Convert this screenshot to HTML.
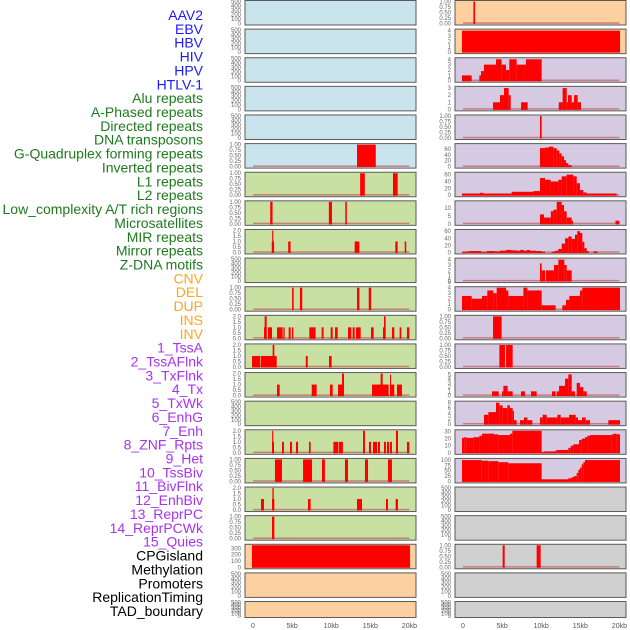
<!DOCTYPE html>
<html><head><meta charset="utf-8"><style>
html,body{margin:0;padding:0;background:#fff;}
svg{display:block;}
</style></head><body>
<svg id="chart" width="630" height="630" viewBox="0 0 630 630" xmlns="http://www.w3.org/2000/svg" font-family="Liberation Sans, sans-serif"></svg>
<script>
// ---- labels ----
const labelNames = ["AAV2","EBV","HBV","HIV","HPV","HTLV-1","Alu repeats","A-Phased repeats","Directed repeats","DNA transposons","G-Quadruplex forming repeats","Inverted repeats","L1 repeats","L2 repeats","Low_complexity A/T rich regions","Microsatellites","MIR repeats","Mirror repeats","Z-DNA motifs","CNV","DEL","DUP","INS","INV","1_TssA","2_TssAFlnk","3_TxFlnk","4_Tx","5_TxWk","6_EnhG","7_Enh","8_ZNF_Rpts","9_Het","10_TssBiv","11_BivFlnk","12_EnhBiv","13_ReprPC","14_ReprPCWk","15_Quies","CPGisland","Methylation","Promoters","ReplicationTiming","TAD_boundary"];
const labelGroups = [0,0,0,0,0,0,1,1,1,1,1,1,1,1,1,1,1,1,1,2,2,2,2,2,3,3,3,3,3,3,3,3,3,3,3,3,3,3,3,4,4,4,4,4];
const groupColors = ["#1a1aff","#1e7a1e","#ffa51f","#a633f0","#000000"];

// ---- panel backgrounds / axis ----
const leftBg = ["b","b","b","b","b","b","g","g","g","g","g","g","g","g","g","g","g","g","g","o","o","o"];
const rightBg = ["o","o","p","p","p","p","p","p","p","p","p","p","p","p","p","p","p","g2","g2","g2","g2","g2"];
const bgColors = {b:"#c9e4ec",g:"#c8e1a2",o:"#fecf9f",p:"#d6c9e2",g2:"#d0d0d0"};
const leftMax = [500,500,500,500,500,1,1,1,2,500,1,2,2,2,500,2,1,2,1,350,500,500];
const rightMax = [1,4.1,4.1,3.1,1,75,64,14,62,4.1,4,1,1,5.2,8.2,31,103,500,500,1,500,500];
const ticks500 = [0,100,200,300,400,500];
const ticks1 = [0,0.25,0.5,0.75,1];
const ticks2 = [0,0.5,1,1.5,2];
const leftTicks = [ticks500,ticks500,ticks500,ticks500,ticks500,ticks1,ticks1,ticks1,ticks2,ticks500,ticks1,ticks2,ticks2,ticks2,ticks500,ticks2,ticks1,ticks2,ticks1,[0,100,200,300],ticks500,ticks500];
const rightTicks = [ticks1,[0,1,2,3,4],[0,1,2,3,4],[0,1,2,3],ticks1,[0,20,40,60],[0,20,40,60],[0,5,10],[0,20,40,60],[0,1,2,3,4],[0,1,2,3,4,5],ticks1,ticks1,[0,1,2,3,4,5],[0,2,4,6,8],[0,10,20,30],[0,25,50,75,100],ticks500,ticks500,ticks1,ticks500,ticks500];
const xTickKb = [0,5,10,15,20];
const xTickLabels = ["0","5kb","10kb","15kb","20kb"];

// ---- bar data: [startKb, endKb, value] ----
const L5 = [[13.3,15.7,1]];
const L6 = [[13.7,14.3,1],[17.9,18.5,1]];
const L7 = [[2.2,2.5,1],[9.7,10.1,1],[11.8,12.0,1]];
const L8 = [[2.4,2.7,1],[2.45,2.6,2],[4.5,4.8,1],[13.0,13.6,1],[18.2,18.5,1],[19.4,19.6,1]];
const L10 = [[5.0,5.2,1],[6.0,6.3,1],[13.3,13.6,1],[14.8,15.1,1]];
const L11 = [[1.41,1.75,1],[1.49,1.75,2],[1.92,2.43,1],[3.07,3.79,1],[3.88,4.05,1],[4.56,4.82,1],[4.99,5.16,1],[7.2,8.01,1],[8.78,9.03,1],[9.93,10.19,1],[10.49,10.83,1],[12.15,12.57,1],[12.74,13.0,1],[13.17,13.77,1],[15.09,15.43,1],[16.62,16.96,1],[16.75,16.96,2],[17.77,18.07,1],[18.75,18.97,1],[19.69,19.99,1]];
const L12 = [[-0.13,0.9,1],[0.98,3.03,1],[2.51,2.73,2],[6.75,7.0,1],[9.72,10.06,1]];
const L13 = [[3.07,3.41,1],[7.51,8.14,1],[9.84,10.19,1],[10.87,11.64,1],[11.38,11.64,2],[15.22,17.35,1],[16.32,16.58,2],[17.52,18.07,1],[17.52,17.62,1.9],[18.41,19.05,1]];
const L15 = [[2.43,2.69,1],[2.45,2.6,2],[3.71,3.96,1],[4.73,4.99,1],[5.5,5.76,1],[7.16,7.37,1],[10.28,10.92,1],[11.0,11.5,1],[14.07,14.32,2],[14.83,15.09,1],[15.34,15.86,1],[15.98,16.24,1],[16.75,17.0,1],[17.13,17.39,1],[17.52,17.77,1],[18.28,18.54,2],[19.69,19.99,1]];
const L16 = [[2.81,3.71,1],[6.4,7.55,1],[8.82,9.2,1],[11.76,12.15,1],[14.32,14.71,1],[17.26,17.77,1]];
const L17 = [[1.02,1.41,1],[2.43,2.73,1],[2.48,2.65,2],[7.03,7.37,1],[13.3,13.94,1],[17.0,17.26,1],[18.24,18.54,1]];
const L18 = [[2.43,2.73,1]];
const L19 = [[-0.13,20.08,350]];
const leftData = [[],[],[],[],[],L5,L6,L7,L8,[],L10,L11,L12,L13,[],L15,L16,L17,L18,L19,[],[]];

const R0 = [[1.33,1.54,1]];
const R1 = [[-0.13,20.08,4]];
const R2 = [[-0.13,1.11,1],[2.09,2.3,1],[2.3,2.68,1.8],[2.68,4.22,3],[4.22,4.94,4],[4.94,5.5,3],[5.5,5.92,2],[5.92,6.86,4],[6.86,8.05,3],[8.05,10.06,4]];
const R3 = [[3.84,4.73,1],[4.73,5.24,2],[5.24,5.84,3],[5.84,6.1,2],[7.42,8.27,1],[12.24,12.74,1],[12.74,13.26,3],[13.26,13.43,1],[13.43,13.9,2],[13.9,14.2,1],[14.2,14.66,2],[14.66,15.09,1]];
const R4 = [[9.84,10.06,1]];
const R5 = [[9.84,10.49,63],[10.49,11.0,65],[11.0,11.55,68],[11.55,11.98,63],[11.98,12.32,55],[12.32,12.62,45],[12.62,12.92,35],[12.92,13.17,22],[13.17,13.47,12],[13.47,13.9,5]];
const R6 = [[-0.13,2.17,5],[2.17,2.6,7],[2.6,6.22,5],[6.22,8.99,10],[8.99,9.84,12],[9.84,10.49,50],[10.49,11.2,45],[11.2,12.2,40],[12.2,12.62,45],[12.62,13.26,55],[13.26,14.11,60],[14.11,14.54,55],[14.54,14.96,35],[14.96,15.39,15],[15.39,15.81,8],[15.81,19.65,5]];
const R7 = [[9.84,10.36,6],[10.36,11.23,4],[11.23,11.55,8],[11.55,11.98,9],[11.98,12.4,14],[12.4,12.62,15],[12.62,12.92,12],[12.92,13.26,8],[13.26,13.9,4],[13.9,14.07,2],[19.5,20.0,2]];
const R8 = [[-0.13,0.68,2],[0.68,2.3,4],[2.3,3.03,1],[3.03,4.09,4],[4.09,4.73,3],[4.73,5.5,5],[5.5,6.22,7],[6.22,6.86,6],[6.86,7.29,5],[7.29,7.8,7],[7.8,8.14,5],[8.14,8.57,7],[8.57,9.34,5],[9.34,10.06,4],[10.06,10.49,2],[11.34,11.77,2],[11.77,12.19,5],[12.19,12.62,10],[12.62,13.05,25],[13.05,13.47,40],[13.47,13.9,45],[13.9,14.32,38],[14.32,14.62,50],[14.62,14.96,60],[14.96,15.26,55],[15.26,15.52,30],[15.52,15.82,12],[15.82,16.07,4],[16.67,17.22,3]];
const R9 = [[9.84,10.06,3.3],[10.06,10.49,2],[10.6,11.64,2],[11.64,12.19,3],[12.19,12.96,4],[12.96,13.26,3],[13.26,13.9,2]];
const R10 = [[-0.13,1.11,2.5],[1.11,2.43,2],[2.43,3.11,2.5],[3.11,3.88,3.5],[3.88,4.31,3],[4.31,5.5,4],[5.5,5.8,3.5],[5.8,7.72,2.5],[7.72,8.23,4],[8.23,10.06,3.5],[10.06,11.85,0.8],[12.7,13.17,0.8],[13.17,13.6,1.8],[13.6,14.96,2.5],[14.96,15.26,3.5],[15.26,20.08,4]];
const R11 = [[3.84,4.94,1]];
const R12 = [[4.65,5.37,1],[5.5,6.35,1]];
const R13 = [[3.71,4.56,1],[4.99,5.16,1],[5.16,5.71,2.3],[5.71,6.35,1],[7.42,7.93,1],[8.7,9.42,1],[11.38,11.85,1],[11.98,12.28,1],[12.28,13.05,2.3],[13.05,13.47,4],[13.47,13.9,5],[13.9,14.32,1],[14.54,14.96,3],[14.96,15.39,2],[15.39,15.82,1]];
const R14 = [[2.68,3.24,3.5],[3.24,4.22,4.5],[4.22,4.65,8],[4.65,5.07,7],[5.07,5.67,6],[5.67,6.01,7],[6.01,6.35,6],[6.35,6.52,5],[6.52,6.86,1.5],[7.29,7.8,1.5],[7.8,8.23,2.5],[8.23,8.87,1.5],[9.84,10.19,2.5],[10.19,10.7,3.5],[10.7,12.07,2.5],[12.07,12.49,3.5],[12.49,13.56,2.5],[13.56,14.41,3.5],[14.41,14.71,2.5],[14.71,15.22,1.5],[15.22,15.69,2.5],[15.69,16.24,1.5],[18.58,20.08,1.5]];
const R15 = [[-0.13,0.17,21],[0.17,0.47,22],[0.47,1.32,21],[1.32,2.09,22],[2.09,2.43,24],[2.43,3.96,27],[3.96,4.52,26],[4.52,6.01,25],[6.01,6.31,27],[6.31,10.06,31],[10.06,10.36,1],[10.36,11.77,2],[11.77,11.98,3],[11.98,13.47,4],[13.47,13.77,7],[13.77,14.11,10],[14.11,14.84,12],[14.84,15.18,18],[15.18,15.6,20],[15.6,15.9,22],[15.9,16.24,24],[16.24,19.01,25],[19.01,19.31,26],[19.31,19.65,27],[19.65,20.08,26]];
const R16 = [[-0.13,2.39,100],[2.39,3.24,97],[3.24,4.52,95],[4.52,5.8,90],[5.8,10.06,85],[10.06,13.47,10],[13.47,13.9,15],[13.9,14.2,20],[14.2,14.54,25],[14.54,14.75,40],[14.75,14.96,55],[14.96,15.18,65],[15.18,15.39,80],[15.39,15.6,90],[15.6,20.08,100]];
const R19 = [[5.07,5.33,1],[9.42,9.93,1]];
const rightData = [R0,R1,R2,R3,R4,R5,R6,R7,R8,R9,R10,R11,R12,R13,R14,R15,R16,[],[],R19,[],[]];

// ---- drawing ----
const svg = document.getElementById('chart');
const NS = 'http://www.w3.org/2000/svg';
function mk(tag, attrs, parent){ const e=document.createElementNS(NS,tag); for(const k in attrs) e.setAttribute(k,attrs[k]); (parent||svg).appendChild(e); return e; }
const PITCH = 28.62, PH = 24.5, PX = 7.82;
function panelTop(i){ return i*PITCH + 0.5; }
function panelH(i){ return i===21 ? 16 : PH; }

labelNames.forEach((n,i)=>{
  const t = mk('text',{x:203,y:(15+i*13.86+5).toFixed(1),'text-anchor':'end','font-size':'14',fill:groupColors[labelGroups[i]]});
  t.textContent = n;
  
  
});

function fmt(v, ticks){
  const mx = ticks[ticks.length-1];
  if(mx===1) return v.toFixed(2);
  if(mx===2) return v.toFixed(1);
  return String(v);
}

function drawPanel(side, i, bg, yMax, ticks, bars){
  const x0 = side==='left' ? 245 : 455;
  const zeroX = side==='left' ? 253 : 463;
  const top = panelTop(i), h = panelH(i);
  const g = mk('g',{});
  
  
  const bgR = mk('rect',{x:x0,y:top,width:171,height:h,fill:bgColors[bg],stroke:'#5a5a5a','stroke-width':1},g);
  
  
  const base = top + h - 1.5, span = h - 2.5;
  const Y = v => base - (v/yMax)*span;
  const X = kb => zeroX + kb*PX;
  ticks.forEach(tv=>{
    const t = mk('text',{x:x0-4,y:(Y(tv)+2).toFixed(1),'text-anchor':'end','font-size':'6',fill:'#666'},g);
    t.textContent = fmt(tv, ticks);
    
    
  });
  if(bars.length){
    const bl = mk('rect',{x:X(0),y:base-1.2,width:X(20)-X(0),height:1.5,fill:'#c06a6a',opacity:0.8},g);
    
    
  }
  bars.forEach(b=>{
    const y = Y(Math.min(b[2],yMax));
    const r = mk('rect',{x:X(b[0]).toFixed(2),y:y.toFixed(2),width:Math.max(1,X(b[1])-X(b[0])).toFixed(2),height:(base-y+0.5).toFixed(2),fill:'#ff0000'},g);
    
    
  });
}
for(let i=0;i<22;i++){
  drawPanel('left', i, leftBg[i], leftMax[i], leftTicks[i], leftData[i]);
  drawPanel('right', i, rightBg[i], rightMax[i], rightTicks[i], rightData[i]);
}
['left','right'].forEach(side=>{
  const zeroX = side==='left' ? 253 : 463;
  xTickKb.forEach((kb,j)=>{
    const t = mk('text',{x:zeroX+kb*PX,y:628,'text-anchor':'middle','font-size':'7',fill:'#555'});
    t.textContent = xTickLabels[j];
    
    
  });
});
</script>
</body></html>
